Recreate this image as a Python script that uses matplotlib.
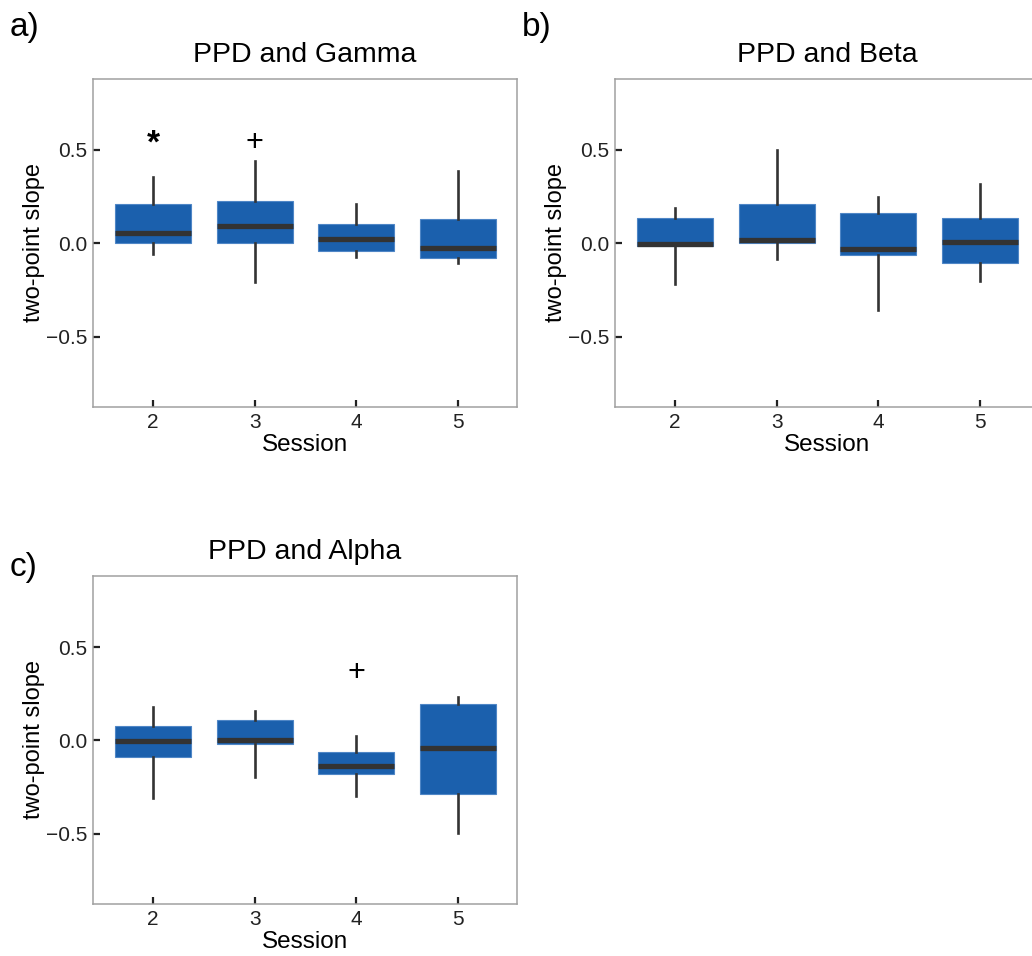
import matplotlib
matplotlib.use("Agg")
import matplotlib.pyplot as plt

plt.rcParams["font.family"] = ["Liberation Sans", "DejaVu Sans"]

sessions = [2, 3, 4, 5]

# quartiles / whisker ends, per panel and session
gamma_q1 = [0.005, 0.003, -0.041, -0.080]
gamma_med = [0.054, 0.091, 0.023, -0.027]
gamma_q3 = [0.209, 0.227, 0.105, 0.132]
gamma_lo = [-0.059, -0.207, -0.072, -0.104]
gamma_hi = [0.354, 0.441, 0.210, 0.387]

beta_q1 = [-0.016, 0.002, -0.064, -0.105]
beta_med = [-0.004, 0.016, -0.028, 0.009]
beta_q3 = [0.136, 0.211, 0.163, 0.136]
beta_lo = [-0.218, -0.082, -0.357, -0.200]
beta_hi = [0.187, 0.502, 0.250, 0.316]

alpha_q1 = [-0.086, -0.021, -0.182, -0.286]
alpha_med = [-0.005, 0.004, -0.139, -0.041]
alpha_q3 = [0.079, 0.111, -0.063, 0.194]
alpha_lo = [-0.309, -0.198, -0.296, -0.497]
alpha_hi = [0.180, 0.157, 0.023, 0.230]

# significance marks: (session, y, symbol)
gamma_marks = [(2, 0.53, "*"), (3, 0.54, "+")]
beta_marks = []
alpha_marks = [(4, 0.36, "+")]

BOX = "#1b60ad"
DARK = "#333333"


def draw_panel(ax, title, q1, med, q3, lo, hi, marks):
    stats = []
    for i in range(len(sessions)):
        stats.append(dict(q1=q1[i], med=med[i], q3=q3[i],
                          whislo=lo[i], whishi=hi[i], fliers=[]))
    ax.bxp(stats, positions=sessions, widths=0.75, patch_artist=True,
           showcaps=False, showfliers=False,
           boxprops=dict(facecolor=BOX, edgecolor="#4f86c6", linewidth=0.8),
           whiskerprops=dict(color=DARK, linewidth=1.9),
           medianprops=dict(color=DARK, linewidth=3.8, solid_capstyle="butt"))
    for s, y, sym in marks:
        ax.text(s, y, sym, ha="center", va="center",
                fontsize=24 if sym == "*" else 22,
                fontweight="bold" if sym == "*" else "normal", color="black")
    ax.set_xlim(1.41, 5.58)
    ax.set_ylim(-0.875, 0.88)
    ax.set_xticks(sessions)
    ax.set_xticklabels([str(s) for s in sessions])
    ax.set_yticks([-0.5, 0.0, 0.5])
    ax.set_yticklabels(["\u22120.5", "0.0", "0.5"])
    ax.tick_params(direction="in", length=5, width=1.6, color="#222222",
                   labelsize=15, labelcolor="#222222", pad=4)
    for sp in ax.spines.values():
        sp.set_color("#a0a0a0")
        sp.set_linewidth(1.1)
    ax.set_title(title, fontsize=20.5, pad=12)
    ax.set_xlabel("Session", fontsize=17.5, labelpad=2)
    ax.set_ylabel("two-point slope", fontsize=17, labelpad=1)


fig = plt.figure(figsize=(10.32, 9.56), dpi=100)
ax_a = fig.add_axes([0.0901, 0.5743, 0.4109, 0.3431])
ax_b = fig.add_axes([0.5959, 0.5743, 0.4109, 0.3431])
ax_c = fig.add_axes([0.0901, 0.0544, 0.4109, 0.3431])

draw_panel(ax_a, "PPD and Gamma", gamma_q1, gamma_med, gamma_q3, gamma_lo, gamma_hi, gamma_marks)
draw_panel(ax_b, "PPD and Beta", beta_q1, beta_med, beta_q3, beta_lo, beta_hi, beta_marks)
draw_panel(ax_c, "PPD and Alpha", alpha_q1, alpha_med, alpha_q3, alpha_lo, alpha_hi, alpha_marks)

fig.text(0.009, 0.971, "a)", fontsize=24, va="center")
fig.text(0.506, 0.971, "b)", fontsize=24, va="center")
fig.text(0.009, 0.406, "c)", fontsize=24, va="center")

fig.savefig("out.png", dpi=100)
